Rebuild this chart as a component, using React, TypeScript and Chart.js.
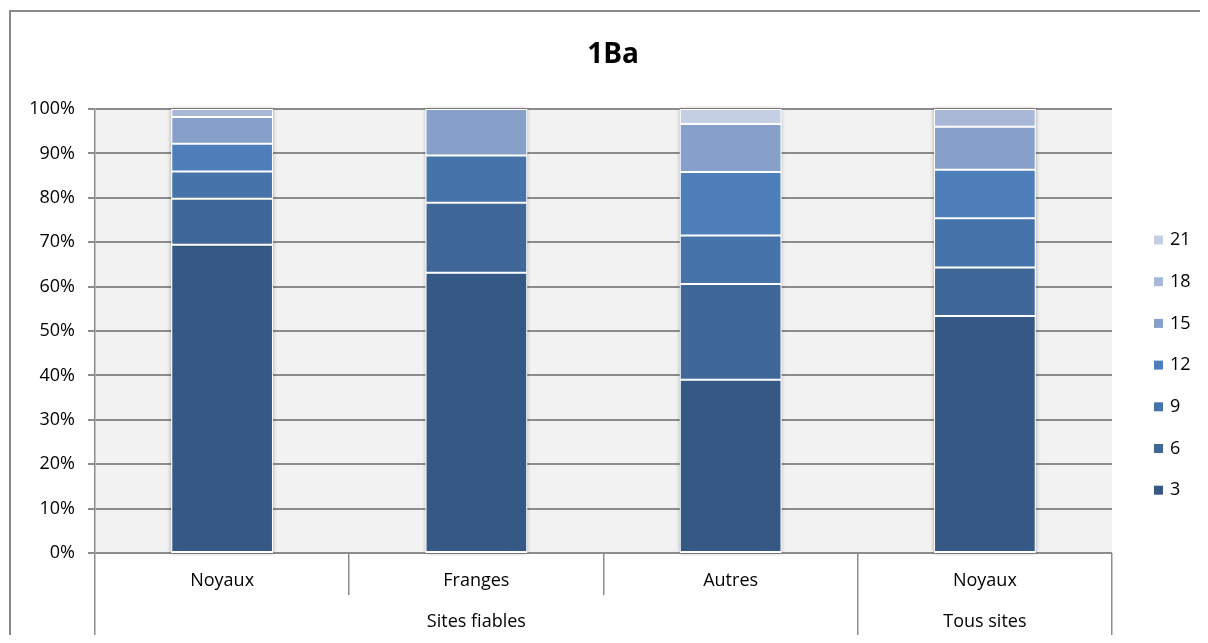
import React, { useEffect, useRef } from "react";
import { Chart, registerables } from "chart.js";

Chart.register(...registerables);

const chartTitle = "1Ba";
const categories = ["Noyaux", "Franges", "Autres", "Noyaux"];
const groupLabels = ["Sites fiables", "Tous sites"];
const groupSpans = [3, 1];
const seriesNames = ["3", "6", "9", "12", "15", "18", "21"];
const s3 = [69.4, 63.1, 39.0, 53.4];
const s6 = [10.4, 15.8, 21.6, 10.9];
const s9 = [6.1, 10.6, 10.9, 11.1];
const s12 = [6.3, null, 14.3, 10.9];
const s15 = [6.0, 10.5, 10.8, 9.7];
const s18 = [1.8, null, null, 4.0];
const s21 = [null, null, 3.4, null];
const seriesColors = ["#355984", "#3F6899", "#4674AA", "#4F7FBB", "#86A0CA", "#A9B8D7", "#C5CFE3"];
const yTicks = [0, 10, 20, 30, 40, 50, 60, 70, 80, 90, 100];

const FONT = "'Open Sans', sans-serif";
const GRID = "#8c8c8c";

const decorPlugin = {
  id: "decor",
  beforeDraw(chart: any) {
    const { ctx, chartArea: a, width, height } = chart;
    ctx.save();
    ctx.fillStyle = "#ffffff";
    ctx.fillRect(0, 0, width, height);
    ctx.fillStyle = "#888888";
    ctx.fillRect(1, 2, 2, height);
    ctx.fillRect(1, 2, width, 2);
    ctx.fillStyle = "#f2f2f2";
    ctx.fillRect(a.left, a.top, a.right - a.left, a.bottom - a.top);
    ctx.restore();
  },
  beforeDatasetsDraw(chart: any) {
    const { ctx } = chart;
    const meta = chart.getDatasetMeta(0);
    const y = chart.scales.y;
    ctx.save();
    ctx.shadowColor = "rgba(0,0,0,0.35)";
    ctx.shadowBlur = 4;
    ctx.fillStyle = "#ffffff";
    meta.data.forEach((el: any) => {
      const w = el.width;
      ctx.fillRect(el.x - w / 2, y.getPixelForValue(100), w, y.getPixelForValue(0) - y.getPixelForValue(100));
    });
    ctx.restore();
  },
  afterDraw(chart: any) {
    const { ctx, chartArea: a, height } = chart;
    const x = chart.scales.x;
    const n = categories.length;
    const cw = (x.right - x.left) / n;
    const bound = (i: number) => x.left + cw * i;
    ctx.save();
    // title
    ctx.fillStyle = "#000";
    ctx.font = `bold 28px ${FONT}`;
    ctx.textAlign = "center";
    ctx.textBaseline = "middle";
    ctx.fillText(chartTitle, 605, 47);
    // category labels
    ctx.font = `18px ${FONT}`;
    categories.forEach((c, i) => {
      ctx.fillText(c, x.getPixelForValue(i), a.bottom + 28);
    });
    // separators
    ctx.fillStyle = GRID;
    const groupBounds: number[] = [0];
    groupSpans.forEach((s) => groupBounds.push(groupBounds[groupBounds.length - 1] + s));
    for (let i = 0; i <= n; i++) {
      const isGroup = groupBounds.includes(i);
      const bx = Math.round(bound(i));
      ctx.fillRect(bx - 1, a.bottom, 1.5, isGroup ? height - a.bottom : 42);
    }
    // group labels
    ctx.fillStyle = "#000";
    groupLabels.forEach((g, gi) => {
      const cx = (bound(groupBounds[gi]) + bound(groupBounds[gi + 1])) / 2;
      ctx.fillText(g, cx, a.bottom + 69);
    });
    // legend
    ctx.textAlign = "left";
    const ds = chart.data.datasets;
    for (let k = ds.length - 1, row = 0; k >= 0; k--, row++) {
      const ly = 232 + row * 41.7;
      ctx.fillStyle = ds[k].backgroundColor;
      ctx.fillRect(1146, ly - 4.5, 9, 9);
      ctx.fillStyle = "#000";
      ctx.fillText(ds[k].label, 1162, ly);
    }
    ctx.restore();
  },
};

export default function App() {
  const ref = useRef<HTMLCanvasElement>(null);
  useEffect(() => {
    const values = [s3, s6, s9, s12, s15, s18, s21];
    const chart = new Chart(ref.current as HTMLCanvasElement, {
      type: "bar",
      data: {
        labels: categories,
        datasets: seriesNames.map((name, i) => ({
          label: name,
          data: values[i],
          backgroundColor: seriesColors[i],
          borderColor: "#ffffff",
          borderWidth: 1,
          borderSkipped: false,
          barPercentage: 0.4,
          categoryPercentage: 1,
        })),
      },
      options: {
        animation: false,
        responsive: false,
        devicePixelRatio: 1,
        layout: { padding: { top: 101, right: 88, left: 0, bottom: 0 } },
        plugins: {
          legend: { display: false },
          title: { display: false },
          tooltip: { enabled: false },
        },
        scales: {
          x: {
            stacked: true,
            ticks: { display: false },
            grid: { display: false },
            border: { display: false },
            afterFit: (s: any) => {
              s.height = 82;
            },
          },
          y: {
            stacked: true,
            min: 0,
            max: 100,
            afterBuildTicks: (s: any) => {
              s.ticks = yTicks.map((v) => ({ value: v }));
            },
            ticks: {
              callback: (v: any) => v + "%",
              color: "#000",
              font: { family: FONT, size: 18 },
              padding: 13,
            },
            grid: { color: GRID, lineWidth: 2, tickLength: 7 },
            border: { display: true, color: GRID, width: 1.5 },
            afterFit: (s: any) => {
              s.width = 87;
            },
          },
        },
      },
      plugins: [decorPlugin],
    } as any);
    return () => chart.destroy();
  }, []);
  return (
    <div style={{ width: 1192, height: 627 }}>
      <canvas ref={ref} width={1192} height={627} style={{ display: "block" }} />
    </div>
  );
}
